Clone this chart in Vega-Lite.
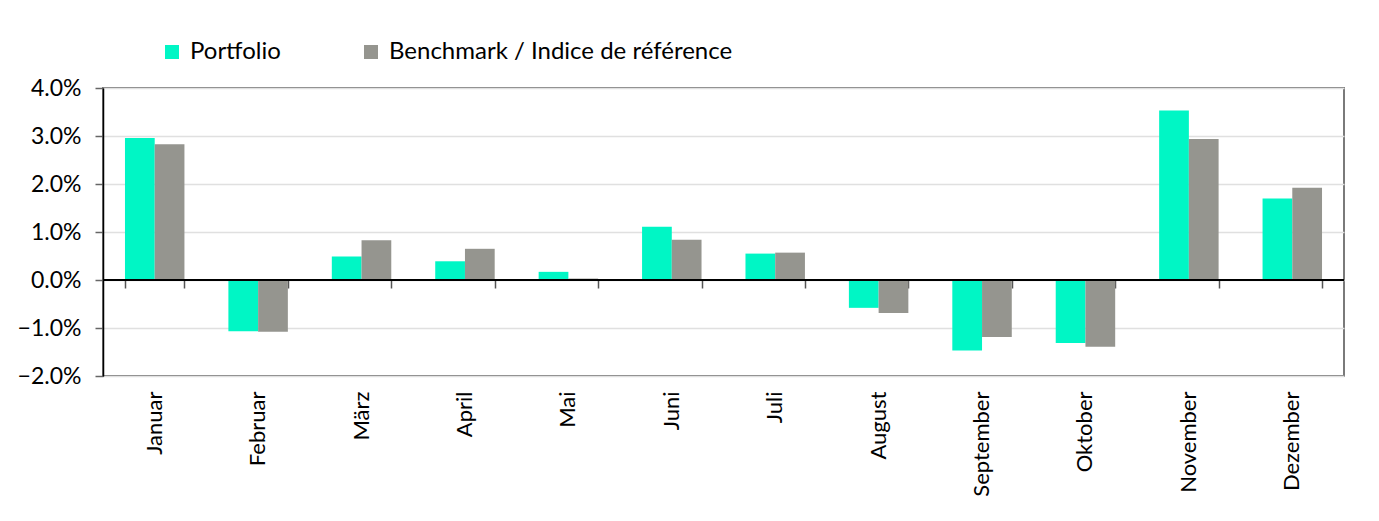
{
  "$schema": "https://vega.github.io/schema/vega-lite/v6.json",
  "width": 1241,
  "height": 288,
  "autosize": "none",
  "padding": {"left": 103, "top": 88, "right": 35, "bottom": 145},
  "background": "white",
  "config": {
    "font": "Lato",
    "view": {"stroke": "#7a7a7a", "strokeWidth": 2}
  },
  "data": {
    "values": [
      {"month": "Januar", "series": "Portfolio", "value": 2.96},
      {"month": "Januar", "series": "Benchmark / Indice de référence", "value": 2.83},
      {"month": "Februar", "series": "Portfolio", "value": -1.07},
      {"month": "Februar", "series": "Benchmark / Indice de référence", "value": -1.08},
      {"month": "März", "series": "Portfolio", "value": 0.49},
      {"month": "März", "series": "Benchmark / Indice de référence", "value": 0.83},
      {"month": "April", "series": "Portfolio", "value": 0.39},
      {"month": "April", "series": "Benchmark / Indice de référence", "value": 0.65},
      {"month": "Mai", "series": "Portfolio", "value": 0.17},
      {"month": "Mai", "series": "Benchmark / Indice de référence", "value": 0.03},
      {"month": "Juni", "series": "Portfolio", "value": 1.11},
      {"month": "Juni", "series": "Benchmark / Indice de référence", "value": 0.84},
      {"month": "Juli", "series": "Portfolio", "value": 0.55},
      {"month": "Juli", "series": "Benchmark / Indice de référence", "value": 0.57},
      {"month": "August", "series": "Portfolio", "value": -0.58},
      {"month": "August", "series": "Benchmark / Indice de référence", "value": -0.69},
      {"month": "September", "series": "Portfolio", "value": -1.47},
      {"month": "September", "series": "Benchmark / Indice de référence", "value": -1.19},
      {"month": "Oktober", "series": "Portfolio", "value": -1.31},
      {"month": "Oktober", "series": "Benchmark / Indice de référence", "value": -1.39},
      {"month": "November", "series": "Portfolio", "value": 3.53},
      {"month": "November", "series": "Benchmark / Indice de référence", "value": 2.94},
      {"month": "Dezember", "series": "Portfolio", "value": 1.70},
      {"month": "Dezember", "series": "Benchmark / Indice de référence", "value": 1.92}
    ]
  },
  "resolve": {"axis": {"x": "independent"}},
  "layer": [
    {
      "mark": {"type": "bar"},
      "encoding": {
        "x": {
          "field": "month", "type": "nominal", "sort": null,
          "scale": {"paddingInner": 0.425, "paddingOuter": 0.2125},
          "axis": {
            "orient": "bottom", "title": null, "labelAngle": -90, "labelAlign": "right", "labelBaseline": "middle",
            "labelFontSize": 22, "labelColor": "#000000", "labelPadding": 15,
            "ticks": false, "domain": false, "grid": false
          }
        },
        "xOffset": {"field": "series", "type": "nominal", "sort": ["Portfolio", "Benchmark / Indice de référence"]},
        "y": {
          "field": "value", "type": "quantitative",
          "scale": {"domain": [-2, 4], "nice": false, "zero": false},
          "axis": {
            "title": null, "values": [-2, -1, 0, 1, 2, 3, 4],
            "labelExpr": "format(datum.value, '.1f') + '%'",
            "labelFontSize": 23, "labelColor": "#000000", "labelPadding": 14,
            "tickSize": 8, "tickColor": "#666666", "tickWidth": 1.5,
            "domainColor": "#000000", "domainWidth": 1.5,
            "gridColor": "#e0e0e0", "gridWidth": 1.5
          }
        },
        "color": {
          "field": "series", "type": "nominal",
          "sort": ["Portfolio", "Benchmark / Indice de référence"],
          "scale": {"domain": ["Portfolio", "Benchmark / Indice de référence"], "range": ["#00f6c5", "#95958f"]},
          "legend": {
            "title": null, "orient": "none", "legendX": 57, "legendY": -48,
            "direction": "horizontal", "symbolType": "square", "symbolSize": 196,
            "symbolStrokeWidth": 0, "labelFontSize": 24, "labelColor": "#000000",
            "labelOffset": 6, "columnPadding": 78, "labelLimit": 500
          }
        }
      }
    },
    {
      "mark": {"type": "rule", "color": "#000000", "strokeWidth": 1.5},
      "encoding": {"y": {"datum": 0, "type": "quantitative"}}
    },
    {
      "mark": {"type": "bar", "opacity": 0},
      "encoding": {
        "x": {
          "field": "month", "type": "nominal", "sort": null,
          "axis": {
            "orient": "bottom", "title": null, "labels": false, "domain": false, "grid": false,
            "offset": -96, "tickBand": "extent", "tickSize": 8, "tickColor": "#555555", "tickWidth": 1.5
          }
        },
        "y": {"field": "value", "type": "quantitative"}
      }
    }
  ]
}
